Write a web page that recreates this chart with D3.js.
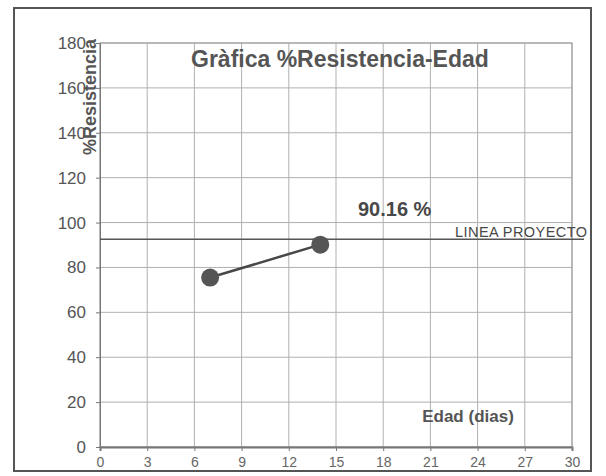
<!DOCTYPE html>
<html><head><meta charset="utf-8">
<script src="https://cdn.jsdelivr.net/npm/d3@7"></script>
<style>body{margin:0;background:#fff;}svg{display:block;font-family:"Liberation Sans",Arial,sans-serif;}</style>
</head><body><svg id="c" width="606" height="476"></svg>
<script>
const ages = [7, 14];
const resistance = [75.5, 90.16];
const xTicks = [0,3,6,9,12,15,18,21,24,27,30];
const yTicks = [0,20,40,60,80,100,120,140,160,180];
const projectLine = 92.6;
const title = "Gràfica %Resistencia-Edad";
const yLabel = "%Resistencia";
const xLabel = "Edad (dias)";
const valueLabel = "90.16 %";
const lineLabel = "LINEA PROYECTO";

const svg = d3.select("#c");
const L=100, R=572, T=43, B=447;
const x = d3.scaleLinear().domain([0,30]).range([L,R]);
const y = d3.scaleLinear().domain([0,180]).range([B,T]);
const ink = "#484848";

svg.append("rect").attr("x",14).attr("y",8).attr("width",577).attr("height",463)
  .attr("fill","#fff").attr("stroke","#555").attr("stroke-width",2);

// grid
svg.append("g").selectAll("line").data(yTicks).join("line")
  .attr("x1",L).attr("x2",R).attr("y1",d=>y(d)).attr("y2",d=>y(d))
  .attr("stroke","#b0b0b0").attr("stroke-width",1);
svg.append("g").selectAll("line").data(xTicks).join("line")
  .attr("y1",T).attr("y2",B).attr("x1",d=>x(d)).attr("x2",d=>x(d))
  .attr("stroke","#b0b0b0").attr("stroke-width",1);
svg.append("rect").attr("x",L).attr("y",T).attr("width",R-L).attr("height",B-T)
  .attr("fill","none").attr("stroke","#999");

// axes
const ya = svg.append("g").attr("transform",`translate(${L},0)`)
  .call(d3.axisLeft(y).tickValues(yTicks).tickSize(4).tickPadding(10));
ya.select(".domain").attr("stroke","#777");
ya.selectAll(".tick line").attr("stroke","#777");
ya.selectAll("text").attr("font-size",17).attr("fill","#555").attr("font-family","Liberation Sans, Arial");
const xa = svg.append("g").attr("transform",`translate(0,${B})`)
  .call(d3.axisBottom(x).tickValues(xTicks).tickSize(4).tickPadding(6));
xa.select(".domain").attr("stroke","#777").attr("stroke-width",2);
xa.selectAll(".tick line").attr("stroke","#777");
xa.selectAll("text").attr("font-size",14).attr("fill","#666").attr("font-family","Liberation Sans, Arial");

// project line
svg.append("line").attr("x1",L).attr("x2",584).attr("y1",y(projectLine)).attr("y2",y(projectLine))
  .attr("stroke","#555").attr("stroke-width",1.5);
svg.append("text").attr("x",455).attr("y",237)
  .attr("font-size",14.5).attr("fill",ink).attr("textLength",132).text(lineLabel);

// series
const pts = ages.map((a,i)=>[a,resistance[i]]);
svg.append("path").attr("d",d3.line().x(d=>x(d[0])).y(d=>y(d[1]))(pts))
  .attr("stroke",ink).attr("stroke-width",2.5).attr("fill","none");
svg.append("g").selectAll("circle").data(pts).join("circle")
  .attr("cx",d=>x(d[0])).attr("cy",d=>y(d[1])).attr("r",9).attr("fill","#555");

// texts
svg.append("text").attr("x",191).attr("y",67)
  .attr("font-size",23).attr("font-weight","bold").attr("fill","#555").text(title);
svg.append("text").attr("transform",`translate(96,97) rotate(-90)`).attr("text-anchor","middle")
  .attr("font-size",18).attr("font-weight","bold").attr("fill","#555").text(yLabel);
svg.append("text").attr("x",358).attr("y",216)
  .attr("font-size",20).attr("font-weight","bold").attr("fill",ink).text(valueLabel);
svg.append("text").attr("x",468).attr("y",422).attr("text-anchor","middle")
  .attr("font-size",17).attr("font-weight","bold").attr("fill","#555").text(xLabel);
</script></body></html>
